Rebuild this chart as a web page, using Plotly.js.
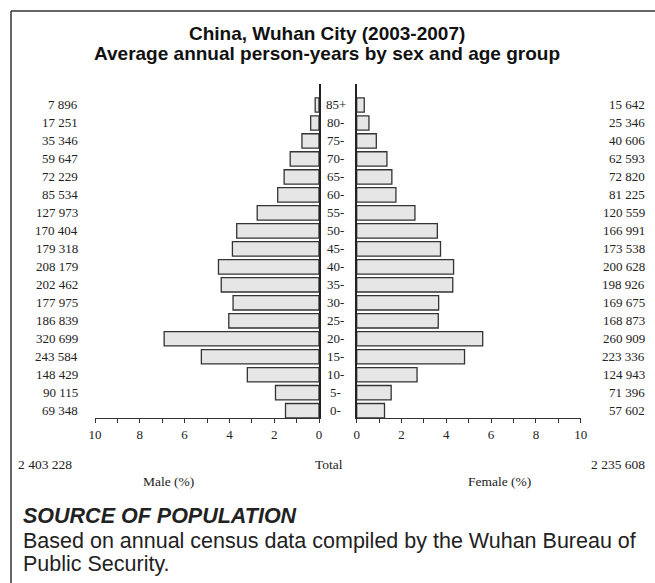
<!DOCTYPE html>
<html><head><meta charset="utf-8">
<script src="https://cdn.plot.ly/plotly-3.0.1.min.js"></script>
<style>html,body{margin:0;padding:0;background:#fff;} #chart{width:655px;height:583px;}</style>
</head><body><div id="chart"></div>
<script>
const ageGroups = ['0-','5-','10-','15-','20-','25-','30-','35-','40-','45-','50-','55-','60-','65-','70-','75-','80-','85+'];
const maleCounts = [69348, 90115, 148429, 243584, 320699, 186839, 177975, 202462, 208179, 179318, 170404, 127973, 85534, 72229, 59647, 35346, 17251, 7896];
const femaleCounts = [57602, 71396, 124943, 223336, 260909, 168873, 169675, 198926, 200628, 173538, 166991, 120559, 81225, 72820, 62593, 40606, 25346, 15642];
const maleTotal = 2403228;
const femaleTotal = 2235608;
const xTicks = [0, 2, 4, 6, 8, 10];
const titleLines = ['China, Wuhan City (2003-2007)', 'Average annual person-years by sex and age group'];
const sourceHead = 'SOURCE OF POPULATION';
const sourceLines = ['Based on annual census data compiled by the Wuhan Bureau of', 'Public Security.'];

const W = 655, H = 583, T = 84, B = 418;
const px = x => x / W;
const py = y => (B - y) / (B - T);
const fmt = n => n.toString().replace(/\B(?=(\d{3})+(?!\d))/g, ' ');
const grand = maleTotal + femaleTotal;
const malePct = maleCounts.map(v => v / grand * 100);
const femalePct = femaleCounts.map(v => v / grand * 100);

const serif = 'Liberation Serif, Times New Roman, serif';
const sans = 'Liberation Sans, Arial, Helvetica, sans-serif';
const barStyle = {color: '#e6e6e6', line: {color: '#333', width: 1.3}};

const traces = [
  {type: 'bar', orientation: 'h', y: ageGroups, x: malePct, xaxis: 'x', yaxis: 'y', marker: barStyle, hoverinfo: 'none'},
  {type: 'bar', orientation: 'h', y: ageGroups, x: femalePct, xaxis: 'x2', yaxis: 'y2', marker: barStyle, hoverinfo: 'none'}
];

const yRange = [-0.406, 18.167];
function xAx(domain, range, anchor) {
  return {domain: domain, range: range, anchor: anchor, tickvals: xTicks, ticktext: xTicks.map(String),
    ticks: 'outside', ticklen: 4, tickcolor: '#333', tickwidth: 1,
    showline: true, linecolor: '#333', linewidth: 1.3, zeroline: false, showgrid: false,
    tickfont: {family: serif, size: 13, color: '#222'},
    minor: {dtick: 1, ticks: 'outside', ticklen: 4, tickcolor: '#333', showgrid: false},
    fixedrange: true};
}
function yAx(anchor, side) {
  return {type: 'category', categoryorder: 'array', categoryarray: ageGroups, range: yRange, anchor: anchor, side: side,
    showticklabels: false, showgrid: false, zeroline: false, showline: true, linecolor: '#222', linewidth: 1.5,
    ticks: '', fixedrange: true};
}

const ann = [];
const lab = {family: serif, size: 13, color: '#222'};
ageGroups.forEach((g, i) => {
  ann.push({x: px(80), xref: 'paper', y: g, yref: 'y', text: fmt(maleCounts[i]), xanchor: 'right', yanchor: 'middle', showarrow: false, font: lab});
  ann.push({x: px(335.5), xref: 'paper', y: g, yref: 'y', text: g, xanchor: 'center', yanchor: 'middle', showarrow: false, font: lab});
  ann.push({x: px(647), xref: 'paper', y: g, yref: 'y', text: fmt(femaleCounts[i]), xanchor: 'right', yanchor: 'middle', showarrow: false, font: lab});
});
function txt(x, y, text, xanchor, font) {
  ann.push({x: px(x), xref: 'paper', y: py(y), yref: 'paper', text: text, xanchor: xanchor, yanchor: 'middle', showarrow: false, font: font});
}
const titleFont = {family: sans, size: 19, color: '#111'};
txt(327, 33.5, '<b>' + titleLines[0] + '</b>', 'center', titleFont);
txt(327, 53, '<b>' + titleLines[1] + '</b>', 'center', titleFont);

const small = {family: serif, size: 13.5, color: '#222'};
txt(16, 464, fmt(maleTotal), 'left', small);
txt(329, 464, 'Total', 'center', small);
txt(647, 464, fmt(femaleTotal), 'right', small);
txt(168, 481, 'Male (%)', 'center', small);
txt(499, 481, 'Female (%)', 'center', small);
const srcFont = {family: sans, size: 21.5, color: '#222'};
txt(21, 516, '<b><i>' + sourceHead + '</i></b>', 'left', srcFont);
txt(21, 540.5, sourceLines[0], 'left', srcFont);
txt(21, 564, sourceLines[1], 'left', srcFont);

const layout = {
  width: W, height: H,
  margin: {l: 0, r: 0, t: T, b: H - B, pad: 0},
  paper_bgcolor: '#fff', plot_bgcolor: 'rgba(0,0,0,0)',
  showlegend: false, bargap: 0.2,
  xaxis: xAx([px(95), px(319)], [10, 0], 'y'),
  yaxis: yAx('x', 'right'),
  xaxis2: xAx([px(356.7), px(580.7)], [0, 10], 'y2'),
  yaxis2: yAx('x2', 'left'),
  annotations: ann,
  shapes: [
    {type: 'line', xref: 'paper', yref: 'paper', x0: px(11), x1: px(11), y0: py(11), y1: py(590), line: {color: '#333', width: 1.5}},
    {type: 'line', xref: 'paper', yref: 'paper', x0: px(11), x1: px(660), y0: py(11), y1: py(11), line: {color: '#333', width: 1.5}}
  ]
};
Plotly.newPlot('chart', traces, layout, {displayModeBar: false, staticPlot: true});
</script>
</body></html>
